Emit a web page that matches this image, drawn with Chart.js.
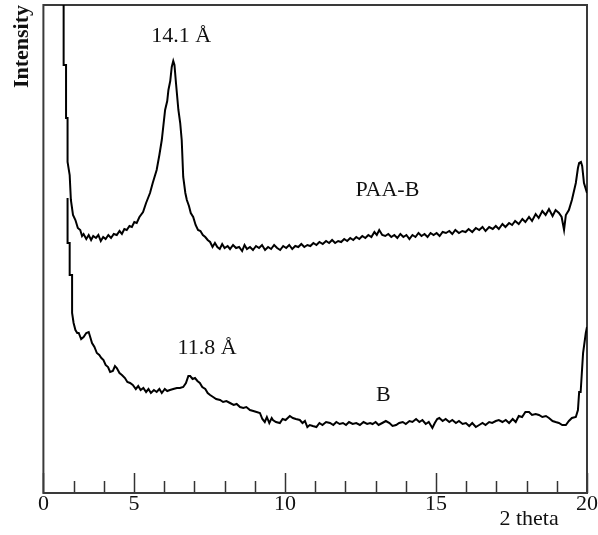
<!DOCTYPE html>
<html>
<head>
<meta charset="utf-8">
<script src="https://cdn.jsdelivr.net/npm/chart.js@4.4.1/dist/chart.umd.min.js"></script>
<style>
  body { margin: 0; background: #fff; }
  #wrap { width: 598px; height: 535px; }
</style>
</head>
<body>
<div id="wrap"><canvas id="xrd" width="598" height="535"></canvas></div>
<script>
// PAA-B trace (2 theta, counts)
const paaTheta = [2.67, 2.67, 2.75, 2.75, 2.80, 2.80, 2.87, 2.91, 2.98, 3.06, 3.14, 3.22, 3.28, 3.33, 3.42, 3.50, 3.58, 3.65, 3.74, 3.82,
  3.90, 3.98, 4.06, 4.15, 4.24, 4.33, 4.43, 4.52, 4.60, 4.68, 4.76, 4.85, 4.93, 5.01, 5.09, 5.18, 5.30, 5.40, 5.53, 5.62,
  5.75, 5.84, 5.92, 6.03, 6.10, 6.14, 6.20, 6.25, 6.30, 6.34, 6.39, 6.47, 6.53, 6.58, 6.63, 6.70, 6.75, 6.82, 6.88, 6.96,
  7.04, 7.12, 7.20, 7.28, 7.36, 7.44, 7.52, 7.60, 7.68, 7.76, 7.84, 7.92, 8.00, 8.10, 8.18, 8.28, 8.38, 8.48, 8.58, 8.66,
  8.74, 8.84, 8.94, 9.04, 9.14, 9.24, 9.34, 9.44, 9.54, 9.64, 9.74, 9.84, 9.94, 10.04, 10.14, 10.24, 10.34, 10.44, 10.54, 10.64,
  10.74, 10.84, 10.94, 11.04, 11.14, 11.25, 11.36, 11.46, 11.56, 11.66, 11.76, 11.86, 11.96, 12.06, 12.16, 12.26, 12.36, 12.46, 12.56, 12.66,
  12.76, 12.86, 12.96, 13.04, 13.12, 13.22, 13.32, 13.42, 13.52, 13.62, 13.72, 13.82, 13.92, 14.02, 14.12, 14.22, 14.32, 14.42, 14.52, 14.62,
  14.72, 14.82, 14.92, 15.02, 15.12, 15.22, 15.33, 15.44, 15.54, 15.64, 15.76, 15.87, 15.98, 16.08, 16.20, 16.32, 16.43, 16.54, 16.64, 16.76,
  16.88, 16.98, 17.08, 17.20, 17.30, 17.42, 17.52, 17.62, 17.74, 17.86, 17.96, 18.08, 18.18, 18.30, 18.40, 18.52, 18.63, 18.74, 18.86, 18.96,
  19.07, 19.16, 19.24, 19.30, 19.40, 19.50, 19.63, 19.70, 19.74, 19.80, 19.84, 19.90, 20.00];
const paaCounts = [560, 428, 428, 375, 375, 331, 318, 293, 278, 273, 265, 263, 257, 259, 254, 258, 253, 257, 255, 258,
  252, 256, 254, 258, 255, 259, 258, 262, 259, 264, 263, 267, 266, 271, 270, 276, 281, 290, 300, 310,
  323, 338, 353, 383, 392, 403, 412, 426, 432, 428, 410, 383, 370, 353, 316, 300, 293, 287, 280, 276,
  268, 263, 262, 258, 256, 253, 251, 246, 250, 246, 244, 249, 245, 247, 244, 248, 245, 246, 242, 248,
  244, 246, 243, 247, 245, 248, 243, 246, 244, 248, 245, 243, 247, 245, 248, 244, 247, 246, 249, 246,
  248, 247, 250, 248, 251, 249, 252, 250, 253, 250, 252, 251, 254, 252, 255, 253, 256, 254, 257, 255,
  258, 256, 261, 258, 263, 258, 257, 259, 256, 258, 255, 259, 256, 258, 254, 258, 256, 260, 257, 259,
  256, 260, 258, 260, 257, 261, 260, 262, 259, 263, 260, 262, 261, 264, 261, 265, 263, 266, 262, 266,
  264, 267, 264, 269, 266, 270, 268, 272, 269, 274, 271, 276, 272, 279, 275, 282, 278, 284, 277, 283,
  280, 276, 263, 278, 283, 293, 310, 325, 330, 331, 327, 310, 300];

// B trace (2 theta, counts)
const bTheta = [2.80, 2.80, 2.87, 2.87, 2.95, 2.95, 3.00, 3.06, 3.12, 3.17, 3.25, 3.33, 3.42, 3.50, 3.56, 3.61, 3.69, 3.77, 3.85, 3.92,
  3.99, 4.06, 4.14, 4.21, 4.30, 4.37, 4.43, 4.52, 4.60, 4.70, 4.78, 4.87, 4.96, 5.06, 5.14, 5.22, 5.31, 5.40, 5.48, 5.56,
  5.66, 5.75, 5.84, 5.92, 6.02, 6.10, 6.19, 6.30, 6.42, 6.52, 6.63, 6.72, 6.80, 6.86, 6.94, 7.02, 7.10, 7.18, 7.26, 7.36,
  7.44, 7.52, 7.62, 7.72, 7.85, 7.95, 8.06, 8.18, 8.30, 8.40, 8.51, 8.62, 8.72, 8.84, 8.95, 9.06, 9.17, 9.25, 9.33, 9.40,
  9.48, 9.56, 9.60, 9.70, 9.83, 9.92, 10.02, 10.16, 10.26, 10.36, 10.49, 10.58, 10.66, 10.74, 10.82, 10.92, 11.04, 11.14, 11.24, 11.36,
  11.49, 11.60, 11.70, 11.81, 11.92, 12.02, 12.12, 12.24, 12.36, 12.48, 12.60, 12.72, 12.82, 12.90, 13.00, 13.10, 13.22, 13.34, 13.46, 13.56,
  13.68, 13.78, 13.90, 14.00, 14.12, 14.22, 14.34, 14.45, 14.55, 14.66, 14.76, 14.88, 14.96, 15.04, 15.11, 15.22, 15.32, 15.44, 15.54, 15.66,
  15.76, 15.88, 15.99, 16.10, 16.20, 16.32, 16.43, 16.54, 16.64, 16.76, 16.86, 16.98, 17.08, 17.20, 17.31, 17.42, 17.54, 17.64, 17.74, 17.85,
  17.96, 18.08, 18.18, 18.30, 18.41, 18.52, 18.64, 18.74, 18.86, 18.96, 19.07, 19.18, 19.30, 19.40, 19.50, 19.63, 19.70, 19.74, 19.79, 19.87,
  19.96, 20.00];
const bCounts = [295, 250, 250, 218, 218, 180, 170, 163, 160, 160, 154, 156, 160, 161, 155, 150, 146, 140, 138, 135,
  133, 128, 126, 121, 122, 127, 125, 120, 118, 115, 111, 110, 108, 104, 107, 103, 105, 101, 104, 100,
  103, 101, 104, 100, 104, 102, 103, 104, 105, 105, 106, 110, 117, 117, 114, 115, 112, 110, 106, 104,
  100, 98, 96, 94, 93, 91, 92, 90, 88, 89, 86, 85, 86, 83, 82, 81, 80, 74, 71, 76,
  70, 75, 73, 71, 70, 74, 73, 77, 75, 74, 73, 70, 72, 66, 68, 67, 66, 70, 68, 71,
  70, 68, 71, 69, 70, 68, 71, 69, 70, 68, 71, 69, 70, 69, 71, 68, 70, 72, 70, 67,
  68, 70, 71, 69, 72, 71, 74, 71, 73, 69, 71, 65, 70, 74, 75, 72, 74, 71, 73, 70,
  72, 69, 70, 67, 70, 66, 68, 70, 68, 71, 70, 72, 73, 71, 73, 70, 74, 71, 77, 76,
  81, 81, 78, 79, 78, 76, 77, 75, 72, 71, 70, 68, 68, 72, 75, 76, 83, 101, 101, 140,
  160, 166];

// axis: drawn from 2 deg, first label reads "0"
const tickValues = [2, 5, 10, 15, 20];
const tickLabels = ['0', '5', '10', '15', '20'];
const minorTicks = [3, 4, 6, 7, 8, 9, 11, 12, 13, 14, 16, 17, 18, 19];

// peak labels
const noteText = ['14.1 Å', 'PAA-B', '11.8 Å', 'B'];
const noteTheta = [6.56, 13.39, 7.42, 13.26];
const noteCounts = [457, 303, 145, 98];

function toPoints(xs, ys) {
  return xs.map((x, i) => ({ x: x, y: ys[i] }));
}

const frame = {
  id: 'frame',
  beforeDatasetsDraw(chart) {
    const { ctx, chartArea: a, scales } = chart;
    ctx.save();
    ctx.strokeStyle = '#333';
    ctx.lineWidth = 1.5;
    tickValues.concat(minorTicks).forEach(v => {
      const px = Math.round(scales.x.getPixelForValue(v)) + 0.5;
      const len = tickValues.includes(v) ? 20 : 12;
      ctx.beginPath();
      ctx.moveTo(px, a.bottom);
      ctx.lineTo(px, a.bottom - len);
      ctx.stroke();
    });
    ctx.lineWidth = 2;
    ctx.strokeStyle = '#3a3a3a';
    ctx.strokeRect(a.left, a.top, a.right - a.left, a.bottom - a.top);
    ctx.restore();
  },
  afterDatasetsDraw(chart) {
    const { ctx, chartArea: a, scales } = chart;
    ctx.save();
    ctx.fillStyle = '#111';
    ctx.font = '22px "Liberation Serif"';
    ctx.textAlign = 'center';
    ctx.textBaseline = 'middle';
    noteText.forEach((t, i) => {
      ctx.fillText(t, scales.x.getPixelForValue(noteTheta[i]), scales.y.getPixelForValue(noteCounts[i]));
    });
    ctx.fillText('2 theta', scales.x.getPixelForValue(18.08), a.bottom + 26);
    ctx.restore();
  }
};

Chart.defaults.font.family = '"Liberation Serif", serif';
Chart.defaults.color = '#111';

new Chart(document.getElementById('xrd'), {
  type: 'line',
  data: {
    datasets: [
      { label: 'PAA-B', data: toPoints(paaTheta, paaCounts), borderColor: '#000', borderWidth: 2, pointRadius: 0, tension: 0 },
      { label: 'B', data: toPoints(bTheta, bCounts), borderColor: '#000', borderWidth: 2, pointRadius: 0, tension: 0 }
    ]
  },
  options: {
    responsive: false,
    animation: false,
    devicePixelRatio: 1,
    layout: { padding: { left: 0, top: 5, right: 10, bottom: 20 } },
    plugins: { legend: { display: false }, tooltip: { enabled: false } },
    scales: {
      x: {
        type: 'linear',
        min: 2,
        max: 20,
        grid: { display: false, drawTicks: false },
        border: { display: false },
        ticks: {
          stepSize: 1,
          autoSkip: false,
          maxRotation: 0,
          padding: 0,
          font: { size: 22, lineHeight: 1 },
          callback: v => {
            const i = tickValues.indexOf(v);
            return i >= 0 ? tickLabels[i] : '';
          }
        }
      },
      y: {
        min: 0,
        max: 488,
        grid: { display: false, drawTicks: false },
        border: { display: false },
        ticks: { display: false },
        title: {
          display: true,
          text: 'Intensity',
          align: 'end',
          font: { size: 22, weight: 'bold' },
          padding: { top: 9, bottom: 8 }
        }
      }
    }
  },
  plugins: [frame]
});
</script>
</body>
</html>
